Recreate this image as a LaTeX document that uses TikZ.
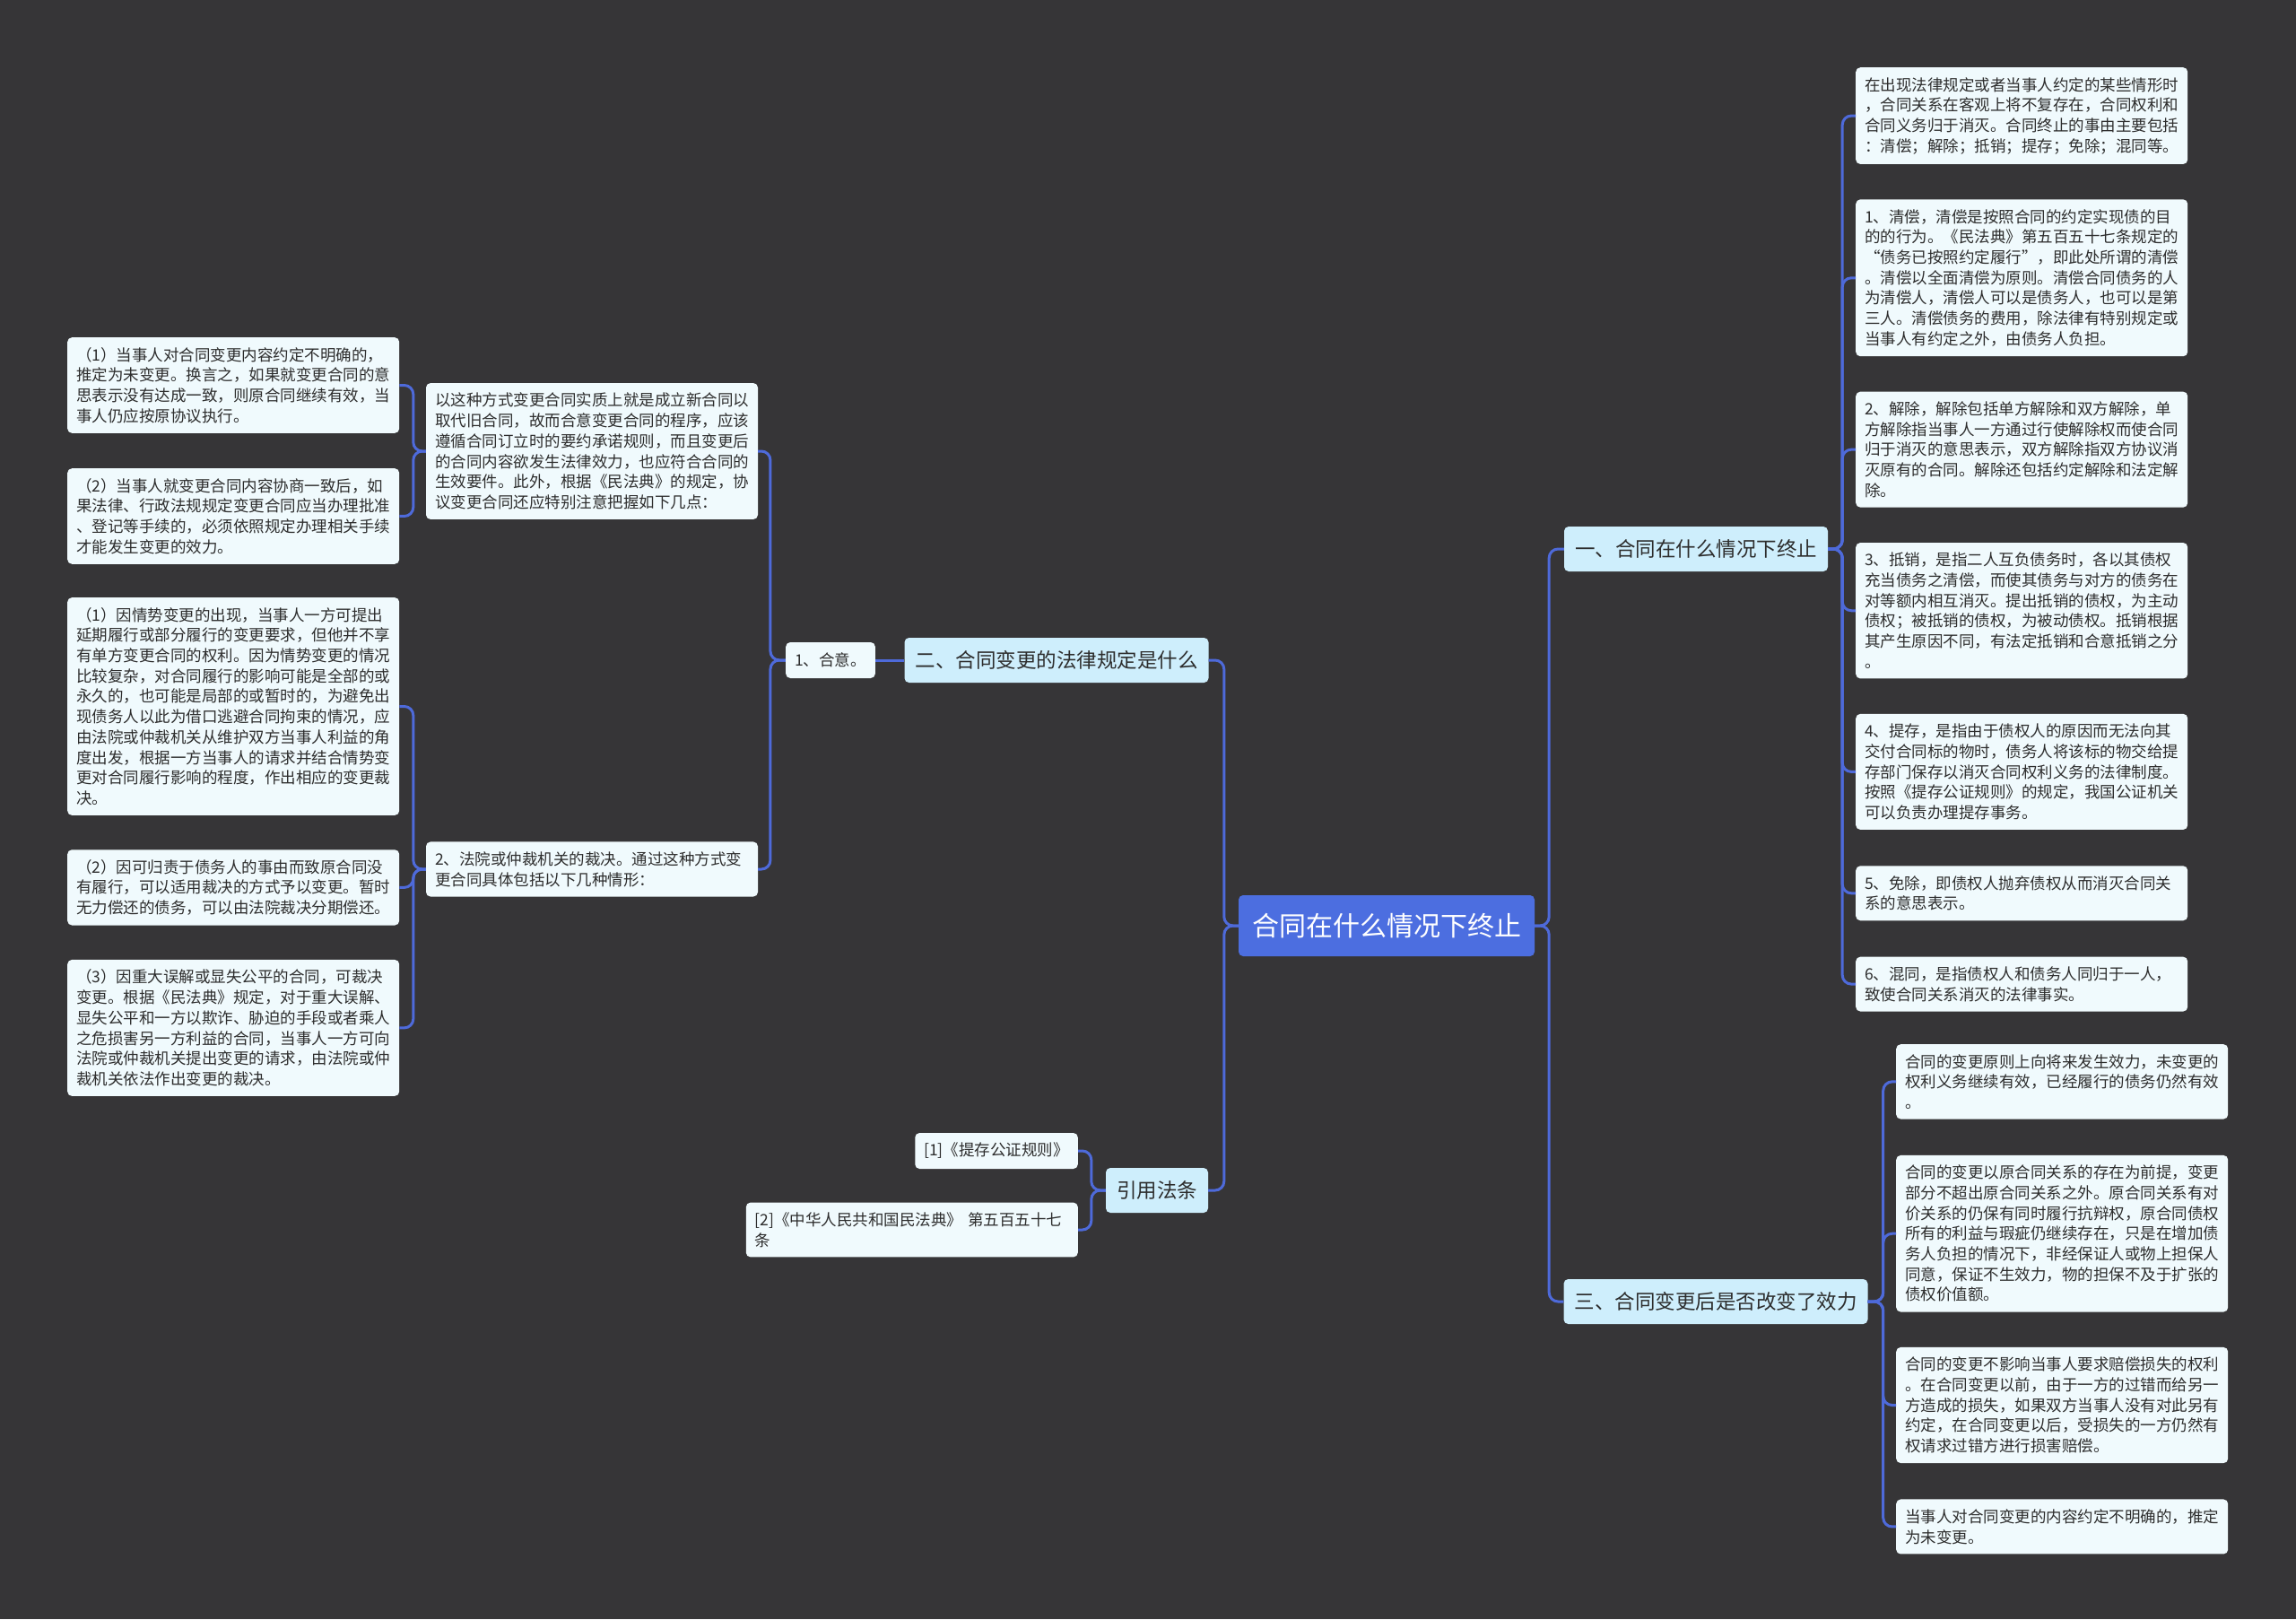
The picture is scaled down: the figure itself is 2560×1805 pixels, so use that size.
\documentclass[tikz,border=0pt]{standalone}
\usepackage{fontspec}
\setmainfont{Noto Sans CJK SC}
\usepackage{tikz}
\usetikzlibrary{positioning}
\definecolor{bgdark}{RGB}{54,53,55}
\definecolor{rootblue}{RGB}{76,110,224}
\definecolor{branchcyan}{RGB}{206,238,252}
\definecolor{leafwhite}{RGB}{240,250,253}
\definecolor{linkblue}{RGB}{78,106,218}
\definecolor{inkgray}{RGB}{45,45,45}
\newcommand{\leaffont}{\fontsize{17.5}{22.7}\selectfont}
\newcommand{\branchfont}{\fontsize{22.5}{27}\selectfont}
\newcommand{\rootfont}{\fontsize{30}{36}\selectfont}

\begin{document}
\begin{tikzpicture}[
        x=1pt, y=-1pt,
        box/.style={rounded corners=5pt, text=inkgray},
        rootnode/.style={box, fill=rootblue, text=white, font=\rootfont, minimum width=330pt, minimum height=68pt},
        branch/.style={box, fill=branchcyan, font=\branchfont, inner xsep=12pt, minimum height=50pt},
        leaf/.style={box, fill=leafwhite, font=\leaffont, text width=350pt, align=left, inner xsep=10pt, inner ysep=11pt},
        tag/.style={box, fill=leafwhite, font=\leaffont, inner xsep=10pt, minimum height=40pt},
        link/.style={linkblue, line width=3pt, rounded corners=10pt}
    ]
    % Canvas
    \fill[bgdark] (0,0) rectangle (2560,1805);
    \useasboundingbox (0,0) rectangle (2560,1805);

    % Root
    \node (root) [rootnode] at (1546,1032) {合同在什么情况下终止};

    % Main branches
    \node (b1) [branch] at (1891,612) {一、合同在什么情况下终止};
    \node (b2) [branch] at (1178,736) {二、合同变更的法律规定是什么};
    \node (b3) [branch] at (1913,1451) {三、合同变更后是否改变了效力};
    \node (b4) [branch] at (1290,1327) {引用法条};

    % Branch one: leaves
    \node (t0) [leaf, anchor=north west] at (2069,75) {在出现法律规定或者当事人约定的某些情形时\\
，合同关系在客观上将不复存在，合同权利和\\
合同义务归于消灭。合同终止的事由主要包括\\
：清偿；解除；抵销；提存；免除；混同等。};
    \node (t1) [leaf, below=39pt of t0] {1、清偿，清偿是按照合同的约定实现债的目\\
的的行为。《民法典》第五百五十七条规定的\\
“债务已按照约定履行”，即此处所谓的清偿\\
。清偿以全面清偿为原则。清偿合同债务的人\\
为清偿人，清偿人可以是债务人，也可以是第\\
三人。清偿债务的费用，除法律有特别规定或\\
当事人有约定之外，由债务人负担。};
    \node (t2) [leaf, below=39pt of t1] {2、解除，解除包括单方解除和双方解除，单\\
方解除指当事人一方通过行使解除权而使合同\\
归于消灭的意思表示，双方解除指双方协议消\\
灭原有的合同。解除还包括约定解除和法定解\\
除。};
    \node (t3) [leaf, below=39pt of t2] {3、抵销，是指二人互负债务时，各以其债权\\
充当债务之清偿，而使其债务与对方的债务在\\
对等额内相互消灭。提出抵销的债权，为主动\\
债权；被抵销的债权，为被动债权。抵销根据\\
其产生原因不同，有法定抵销和合意抵销之分\\
。};
    \node (t4) [leaf, below=39pt of t3] {4、提存，是指由于债权人的原因而无法向其\\
交付合同标的物时，债务人将该标的物交给提\\
存部门保存以消灭合同权利义务的法律制度。\\
按照《提存公证规则》的规定，我国公证机关\\
可以负责办理提存事务。};
    \node (t5) [leaf, below=40pt of t4] {5、免除，即债权人抛弃债权从而消灭合同关\\
系的意思表示。};
    \node (t6) [leaf, below=40pt of t5] {6、混同，是指债权人和债务人同归于一人，\\
致使合同关系消灭的法律事实。};

    % Branch three: leaves
    \node (s1) [leaf, anchor=north west] at (2114,1164) {合同的变更原则上向将来发生效力，未变更的\\
权利义务继续有效，已经履行的债务仍然有效\\
。};
    \node (s2) [leaf, below=40pt of s1] {合同的变更以原合同关系的存在为前提，变更\\
部分不超出原合同关系之外。原合同关系有对\\
价关系的仍保有同时履行抗辩权，原合同债权\\
所有的利益与瑕疵仍继续存在，只是在增加债\\
务人负担的情况下，非经保证人或物上担保人\\
同意，保证不生效力，物的担保不及于扩张的\\
债权价值额。};
    \node (s3) [leaf, below=39pt of s2] {合同的变更不影响当事人要求赔偿损失的权利\\
。在合同变更以前，由于一方的过错而给另一\\
方造成的损失，如果双方当事人没有对此另有\\
约定，在合同变更以后，受损失的一方仍然有\\
权请求过错方进行损害赔偿。};
    \node (s4) [leaf, below=40pt of s3] {当事人对合同变更的内容约定不明确的，推定\\
为未变更。};

    % Branch two: agreement and court ruling
    \node (k1) [tag] at (926,736) {1、合意。};
    \node (m1) [leaf] at (660,503) {以这种方式变更合同实质上就是成立新合同以\\
取代旧合同，故而合意变更合同的程序，应该\\
遵循合同订立时的要约承诺规则，而且变更后\\
的合同内容欲发生法律效力，也应符合合同的\\
生效要件。此外，根据《民法典》的规定，协\\
议变更合同还应特别注意把握如下几点：};
    \node (m2) [leaf] at (660,969) {2、法院或仲裁机关的裁决。通过这种方式变\\
更合同具体包括以下几种情形：};

    % Branch two: far left leaves
    \node (l1) [leaf, anchor=north west] at (75,376) {（1）当事人对合同变更内容约定不明确的，\\
推定为未变更。换言之，如果就变更合同的意\\
思表示没有达成一致，则原合同继续有效，当\\
事人仍应按原协议执行。};
    \node (l2) [leaf, below=39pt of l1] {（2）当事人就变更合同内容协商一致后，如\\
果法律、行政法规规定变更合同应当办理批准\\
、登记等手续的，必须依照规定办理相关手续\\
才能发生变更的效力。};
    \node (l3) [leaf, below=37pt of l2] {（1）因情势变更的出现，当事人一方可提出\\
延期履行或部分履行的变更要求，但他并不享\\
有单方变更合同的权利。因为情势变更的情况\\
比较复杂，对合同履行的影响可能是全部的或\\
永久的，也可能是局部的或暂时的，为避免出\\
现债务人以此为借口逃避合同拘束的情况，应\\
由法院或仲裁机关从维护双方当事人利益的角\\
度出发，根据一方当事人的请求并结合情势变\\
更对合同履行影响的程度，作出相应的变更裁\\
决。};
    \node (l4) [leaf, below=38pt of l3] {（2）因可归责于债务人的事由而致原合同没\\
有履行，可以适用裁决的方式予以变更。暂时\\
无力偿还的债务，可以由法院裁决分期偿还。};
    \node (l5) [leaf, below=38pt of l4] {（3）因重大误解或显失公平的合同，可裁决\\
变更。根据《民法典》规定，对于重大误解、\\
显失公平和一方以欺诈、胁迫的手段或者乘人\\
之危损害另一方利益的合同，当事人一方可向\\
法院或仲裁机关提出变更的请求，由法院或仲\\
裁机关依法作出变更的裁决。};

    % Cited laws
    \node (r1) [tag, anchor=east] at (1202,1283) {[1]《提存公证规则》};
    \node (r2) [leaf, anchor=east] at (1202,1371) {[2]《中华人民共和国民法典》 第五百五十七\\
条};

    % Root links
    \draw[link] (root.west) -- ++(-16,0) |- (b2.east);
    \draw[link] (root.west) -- ++(-16,0) |- (b4.east);
    \draw[link] (root.east) -- ++(16,0) |- (b1.west);
    \draw[link] (root.east) -- ++(16,0) |- (b3.west);

    % Branch one links
    \draw[link] (b1.east) -- ++(16,0) |- (t0.west);
    \draw[link] (b1.east) -- ++(16,0) |- (t1.west);
    \draw[link] (b1.east) -- ++(16,0) |- (t2.west);
    \draw[link] (b1.east) -- ++(16,0) |- (t3.west);
    \draw[link] (b1.east) -- ++(16,0) |- (t4.west);
    \draw[link] (b1.east) -- ++(16,0) |- (t5.west);
    \draw[link] (b1.east) -- ++(16,0) |- (t6.west);

    % Branch three links
    \draw[link] (b3.east) -- ++(17,0) |- (s1.west);
    \draw[link] (b3.east) -- ++(17,0) |- (s2.west);
    \draw[link] (b3.east) -- ++(17,0) |- (s3.west);
    \draw[link] (b3.east) -- ++(17,0) |- (s4.west);

    % Branch two links
    \draw[link] (b2.west) -- (k1.east);
    \draw[link] (k1.west) -- ++(-17,0) |- (m1.east);
    \draw[link] (k1.west) -- ++(-17,0) |- (m2.east);
    \draw[link] (m1.west) -- ++(-14,0) |- (l1.east);
    \draw[link] (m1.west) -- ++(-14,0) |- (l2.east);
    \draw[link] (m2.west) -- ++(-14,0) |- (l3.east);
    \draw[link] (m2.west) -- ++(-14,0) |- (l4.east);
    \draw[link] (m2.west) -- ++(-14,0) |- (l5.east);

    % Citation links
    \draw[link] (b4.west) -- ++(-16,0) |- (r1.east);
    \draw[link] (b4.west) -- ++(-16,0) |- (r2.east);
\end{tikzpicture}
\end{document}
